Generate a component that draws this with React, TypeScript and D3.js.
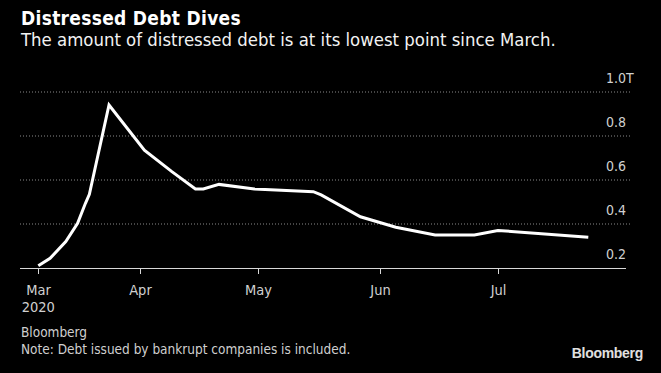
import React from "react";
import * as d3 from "d3";

// Distressed debt amount, trillions of USD
const dates = [
  "2020-03-06", "2020-03-09", "2020-03-13", "2020-03-16", "2020-03-18",
  "2020-03-19", "2020-03-24", "2020-04-02", "2020-04-09", "2020-04-15",
  "2020-04-17", "2020-04-21", "2020-04-30", "2020-05-15", "2020-05-17",
  "2020-05-27", "2020-06-05", "2020-06-15", "2020-06-25", "2020-07-01",
  "2020-07-03", "2020-07-24",
];
const debt = [
  0.21, 0.244, 0.32, 0.403, 0.494,
  0.535, 0.941, 0.736, 0.638, 0.559,
  0.559, 0.58, 0.559, 0.547, 0.532,
  0.433, 0.385, 0.35, 0.35, 0.37,
  0.368, 0.34,
];
const xTickDates = ["2020-03-06", "2020-04-01", "2020-05-01", "2020-06-01", "2020-07-01"];
const xTickLabels = ["Mar", "Apr", "May", "Jun", "Jul"];
const yTicks = [0.2, 0.4, 0.6, 0.8, 1.0];
const yTickLabels = ["0.2", "0.4", "0.6", "0.8", "1.0T"];

const W = 661;
const H = 373;
const FONT = "'DejaVu Sans Condensed', 'DejaVu Sans', sans-serif";

const parse = d3.utcParse("%Y-%m-%d");

export default function App() {
  const data = dates.map((d, i) => ({ date: parse(d) as Date, value: debt[i] }));

  const x = d3
    .scaleUtc()
    .domain([parse(dates[0]) as Date, parse(dates[dates.length - 1]) as Date])
    .range([38.3, 588.3]);

  const y = d3.scaleLinear().domain([0.2, 1.0]).range([268, 92]);

  const line = d3
    .line<{ date: Date; value: number }>()
    .x((d) => x(d.date))
    .y((d) => y(d.value));

  const left = 20;
  const right = 630;

  return (
    <svg
      width={W}
      height={H}
      style={{ position: "absolute", left: 0, top: 0, background: "#000" }}
      fontFamily={FONT}
    >
      <rect width={W} height={H} fill="#000" />

      {/* heading */}
      <text x={21} y={25} fill="#fff" fontSize={19} fontWeight="bold" letterSpacing={0.3}>
        Distressed Debt Dives
      </text>
      <text x={21} y={45.5} fill="#f2f2f2" fontSize={18.4}>
        The amount of distressed debt is at its lowest point since March.
      </text>

      {/* gridlines + y labels */}
      {yTicks.map((t, i) => (
        <g key={t}>
          {i > 0 && (
            <line
              x1={left}
              x2={right}
              y1={y(t)}
              y2={y(t)}
              stroke="#8a8a8a"
              strokeWidth={1}
              strokeDasharray="1,2"
            />
          )}
          <text x={606} y={y(t) - 9.5} fill="#d0d0d0" fontSize={14}>
            {yTickLabels[i]}
          </text>
        </g>
      ))}

      {/* x axis */}
      <line x1={left} x2={626} y1={268.5} y2={268.5} stroke="#d8d8d8" strokeWidth={1} />
      {xTickDates.map((d, i) => {
        const px = Math.round(x(parse(d) as Date)) + 0.5;
        return (
          <g key={d}>
            <line x1={px} x2={px} y1={268.5} y2={274} stroke="#d8d8d8" strokeWidth={1} />
            <text x={px} y={294.5} fill="#d0d0d0" fontSize={14.5} textAnchor="middle">
              {xTickLabels[i]}
            </text>
          </g>
        );
      })}
      <text x={x(parse(xTickDates[0]) as Date)} y={312} fill="#d0d0d0" fontSize={14.5} textAnchor="middle">
        2020
      </text>

      {/* series */}
      <path
        d={line(data) ?? ""}
        fill="none"
        stroke="#fff"
        strokeWidth={3}
        strokeLinejoin="miter"
      />

      {/* footer */}
      <text x={21} y={337} fill="#cfcfcf" fontSize={13.5}>
        Bloomberg
      </text>
      <text x={21} y={353.5} fill="#cfcfcf" fontSize={13.5}>
        Note: Debt issued by bankrupt companies is included.
      </text>
      <text
        x={643}
        y={358}
        fill="#e0e0e0"
        fontSize={14}
        fontWeight="bold"
        textAnchor="end"
        fontFamily="'Liberation Sans', Arial, sans-serif"
        letterSpacing={-0.3}
      >
        Bloomberg
      </text>
    </svg>
  );
}
